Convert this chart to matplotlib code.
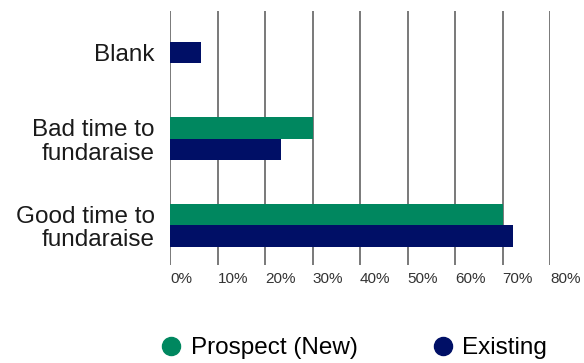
import matplotlib
matplotlib.use("Agg")
import matplotlib.pyplot as plt
from matplotlib.lines import Line2D
import numpy as np

categories = ["Good time to\nfundaraise", "Bad time to\nfundaraise", "Blank"]
prospect = [70.0, 30.0, np.nan]
existing = [72.3, 23.4, 6.5]
tick_values = [0, 10, 20, 30, 40, 50, 60, 70, 80]
tick_labels = ["0%", "10%", "20%", "30%", "40%", "50%", "60%", "70%", "80%"]
series_names = ["Prospect (New)", "Existing"]
colors = ["#00875F", "#000F66"]

plt.rcParams['font.family'] = ['Liberation Sans', 'DejaVu Sans']

fig = plt.figure(figsize=(5.84, 3.63), dpi=100)
ax = fig.add_axes([170/584, 1-265/363, 380/584, 254/363])

h = 0.25
y = np.arange(len(categories))
for i in range(len(categories)):
    p, e = prospect[i], existing[i]
    if np.isnan(p):
        ax.barh(y[i], e, height=h, color=colors[1], zorder=3)
    else:
        ax.barh(y[i] + h/2, p, height=h, color=colors[0], zorder=3)
        ax.barh(y[i] - h/2, e, height=h, color=colors[1], zorder=3)

ax.set_xlim(0, 80)
ax.set_ylim(-0.46, 2.48)
ax.set_yticks(y)
ax.set_yticklabels(categories, fontsize=17.5, color="#1a1a1a", ha="right", linespacing=1.1)
ax.set_xticks(tick_values)
ax.set_xticklabels(tick_labels, fontsize=11, color="#333333", ha="left")
ax.tick_params(axis="both", length=0)
ax.tick_params(axis="x", pad=5)
ax.tick_params(axis="y", pad=11)
for s in ax.spines.values():
    s.set_visible(False)
ax.grid(axis="x", color="#555555", linewidth=1.1, zorder=0)

handles = [Line2D([], [], marker="o", linestyle="none", markersize=13,
                  markerfacecolor=c, markeredgecolor=c) for c in colors]
fig.legend(handles, series_names, loc="center", bbox_to_anchor=(353/584, 1-348/363),
           ncol=2, frameon=False, fontsize=17.5, handletextpad=0.3, columnspacing=3.0,
           handlelength=1.0)

fig.savefig("out.png", dpi=100)
